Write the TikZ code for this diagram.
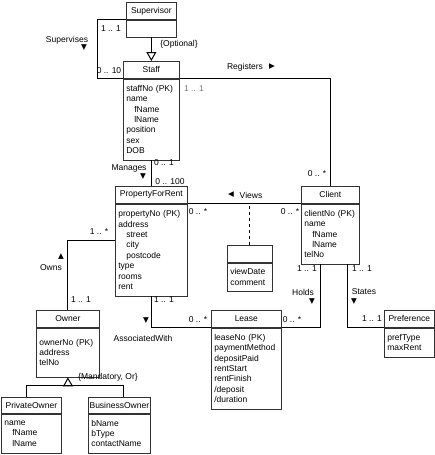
\documentclass[tikz,border=0pt]{standalone}
\usepackage{fontspec}
\setmainfont{Liberation Sans}
\newfontfamily\symf{DejaVu Sans}
\usetikzlibrary{arrows.meta}

\tikzset{
  classname/.style={draw=black!80, line width=0.7pt, minimum height=17pt, inner sep=0pt, anchor=north west},
  classattr/.style={draw=black!80, line width=0.7pt, inner xsep=3pt, inner ysep=0pt, align=left, anchor=north west},
  assoc/.style={line width=1pt},
  gen/.style={line width=1pt, -{Triangle[open, length=9pt, width=10pt]}},
  mult/.style={inner sep=0pt},
  dir/.style={inner sep=0pt, font=\symf\fontsize{7.5}{7.5}\selectfont},
}
\newcommand{\ind}{\hspace*{8pt}}

\begin{document}
\begin{tikzpicture}[x=1pt, y=-1pt, font=\fontsize{8.5}{10.4}\selectfont]
    \useasboundingbox (0,0) rectangle (435,455);

    % Classes
    \node[classname, minimum width=50pt] (Supervisor) at (126,2) {Supervisor};
    \node[classattr, minimum width=50pt, minimum height=17pt] (SupervisorAttr) at (Supervisor.south west) {};

    \node[classname, minimum width=56pt] (Staff) at (123,61) {Staff};
    \node[classattr, text width=50pt, minimum height=81pt] (StaffAttr) at (Staff.south west)
        {staffNo (PK)\\name\\\ind fName\\\ind lName\\position\\sex\\DOB};

    \node[classname, minimum width=72pt] (PropertyForRent) at (115,186) {PropertyForRent};
    \node[classattr, text width=66pt, minimum height=92pt] (PropertyForRentAttr) at (PropertyForRent.south west)
        {propertyNo (PK)\\address\\\ind street\\\ind city\\\ind postcode\\type\\rooms\\rent};

    \node[classname, minimum width=58pt] (Client) at (301,186) {Client};
    \node[classattr, text width=52pt, minimum height=60pt] (ClientAttr) at (Client.south west)
        {clientNo (PK)\\name\\\ind fName\\\ind lName\\telNo};

    \node[classname, minimum width=45pt] (Viewing) at (227,245) {};
    \node[classattr, text width=39pt, minimum height=28pt] (ViewingAttr) at (Viewing.south west)
        {viewDate\\comment};

    \node[classname, minimum width=63pt] (Owner) at (36,310) {Owner};
    \node[classattr, text width=57pt, minimum height=49pt] (OwnerAttr) at (Owner.south west)
        {ownerNo (PK)\\address\\telNo};

    \node[classname, minimum width=70pt] (Lease) at (211,310) {Lease};
    \node[classattr, text width=64pt, minimum height=81pt] (LeaseAttr) at (Lease.south west)
        {leaseNo (PK)\\paymentMethod\\depositPaid\\rentStart\\rentFinish\\/deposit\\/duration};

    \node[classname, minimum width=50pt] (Preference) at (384,310) {Preference};
    \node[classattr, text width=44pt, minimum height=29pt] (PreferenceAttr) at (Preference.south west)
        {prefType\\maxRent};

    \node[classname, minimum width=60pt, minimum height=16pt] (PrivateOwner) at (1,397) {PrivateOwner};
    \node[classattr, text width=54pt, minimum height=39pt] (PrivateOwnerAttr) at (PrivateOwner.south west)
        {name\\\ind fName\\\ind lName};

    \node[classname, minimum width=62pt, minimum height=16pt] (BusinessOwner) at (88,397) {BusinessOwner};
    \node[classattr, text width=56pt, minimum height=39pt] (BusinessOwnerAttr) at (BusinessOwner.south west)
        {bName\\bType\\contactName};

    % Associations
    \draw[assoc] (Supervisor.south west) -- ++(-29,0) |- (Staff.south west);
    \draw[gen] (SupervisorAttr.south) -- (Staff.north);
    \draw[assoc] (Staff.south east) -| (Client.north);
    \draw[assoc] (StaffAttr.south) -- (PropertyForRent.north);
    \draw[assoc] (PropertyForRent.south east) -- (Client.south west);
    \draw[assoc, dashed] (Viewing.north) -- (Viewing.north |- Client.south west);
    \draw[assoc] (Owner.north) |- ([yshift=-37pt]PropertyForRentAttr.north west);
    \draw[assoc] (PropertyForRentAttr.south) |- (Lease.south west);
    \draw[assoc] ([xshift=-10pt]ClientAttr.south) |- (Lease.south east);
    \draw[assoc] ([xshift=17pt]ClientAttr.south) |- (Preference.south west);

    % Generalization of Owner
    \coordinate (ownerJoin) at (68,385);
    \draw[gen] (ownerJoin) -- (OwnerAttr.south);
    \draw[assoc] ([xshift=-5pt]PrivateOwner.north) |- (ownerJoin);
    \draw[assoc] ([xshift=4pt]BusinessOwner.north) |- (ownerJoin);

    % Labels and multiplicities
    \node[mult] (supOne) at (111,29) {1 .. 1};
    \node[mult] (supervisesLbl) at (67,40) {Supervises};
    \node[dir] (supervisesDir) at (84,48) {▼};
    \node[mult] (optionalLbl) at (179,44) {\{Optional\}};
    \node[mult] (supTen) at (109,71) {0 .. 10};
    \node[mult, text=black!55] (regOne) at (194,89) {1 .. 1};
    \node[mult] (registersLbl) at (245,67) {Registers};
    \node[dir] (registersDir) at (272,67) {▶};
    \node[mult] (regMany) at (317,174) {0 .. *};
    \node[mult] (manOne) at (164,163) {0 .. 1};
    \node[mult] (managesLbl) at (129,168) {Manages};
    \node[dir] (managesDir) at (143,177) {▼};
    \node[mult] (manHundred) at (170,182) {0 .. 100};
    \node[dir] (viewsDir) at (231,195) {◀};
    \node[mult] (viewsLbl) at (251,195) {Views};
    \node[mult] (viewsPfr) at (198,212) {0 .. *};
    \node[mult] (viewsClient) at (290,212) {0 .. *};
    \node[mult] (ownsMany) at (99,232) {1 .. *};
    \node[dir] (ownsDir) at (61,257) {▲};
    \node[mult] (ownsLbl) at (51,268) {Owns};
    \node[mult] (ownsOne) at (81,300) {1 .. 1};
    \node[mult] (assocOne) at (164,300) {1 .. 1};
    \node[dir] (assocDir) at (146,321) {▼};
    \node[mult] (assocMany) at (198,320) {0 .. *};
    \node[mult] (assocLbl) at (143,338) {AssociatedWith};
    \node[mult] (holdsOne) at (307,269) {1 .. 1};
    \node[mult] (holdsLbl) at (303,292) {Holds};
    \node[dir] (holdsDir) at (312,302) {▼};
    \node[mult] (holdsMany) at (292,320) {0 .. *};
    \node[mult] (statesOne) at (362,269) {1 .. 1};
    \node[mult] (statesLbl) at (364,292) {States};
    \node[dir] (statesDir) at (354,302) {▼};
    \node[mult] (statesPref) at (372,319) {1 .. 1};
    \node[mult] (mandatoryLbl) at (108,377) {\{Mandatory, Or\}};
\end{tikzpicture}
\end{document}
